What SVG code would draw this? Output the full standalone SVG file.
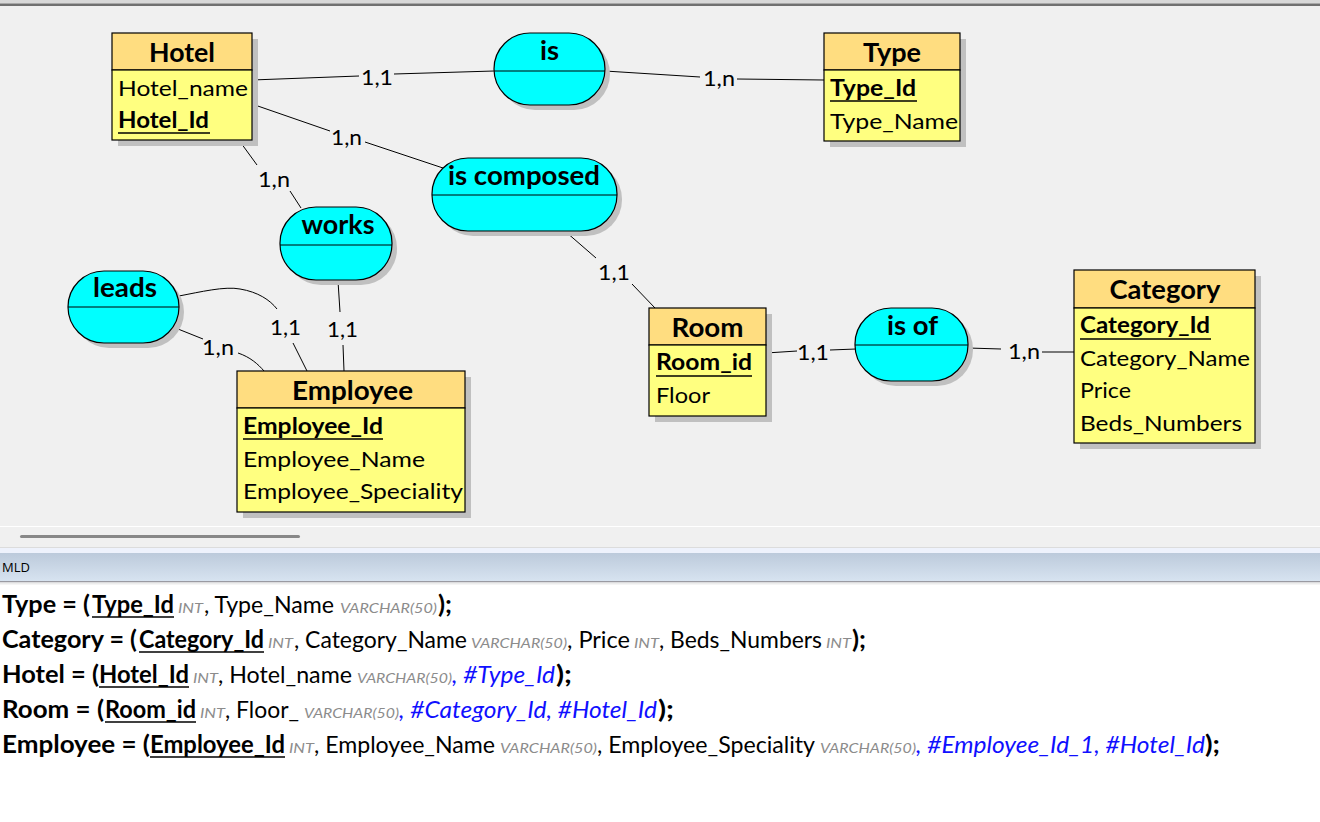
<svg xmlns="http://www.w3.org/2000/svg" width="1320" height="822" viewBox="0 0 1320 822">
<defs>
<style>
text{font-family:Lato,"Open Sans","Liberation Sans",sans-serif;fill:#000}
.ent{fill:#ffff80;stroke:#000;stroke-width:1.2}
.hdr{fill:#ffdd80;stroke:#000;stroke-width:1.2}
.shd{fill:#c0c0c0}
.asc{fill:#00ffff;stroke:#000;stroke-width:1.2}
.ttl{font-size:26px;font-weight:bold;text-anchor:middle}
.att{font-size:22px}
.key{font-size:22px;font-weight:bold}
.card{font-size:22px}
.ln{fill:none;stroke:#000;stroke-width:1}
.ul{stroke:#000;stroke-width:1.6}
.mb{font-size:24px;font-weight:bold}
.mr{font-size:23px}
.ms{font-size:14px;font-style:italic;fill:#8c8c8c}
.mf{font-size:23px;font-style:italic;fill:#1010ff}
</style>
<linearGradient id="hg" x1="0" y1="0" x2="0" y2="1">
<stop offset="0" stop-color="#bccadb"/>
<stop offset="1" stop-color="#d8e4f1"/>
</linearGradient>
</defs>

<rect x="0" y="0" width="1320" height="822" fill="#ffffff"/>
<rect x="0" y="0" width="1320" height="526" fill="#f0f0f0"/>
<rect x="0" y="0" width="1320" height="3" fill="#d8d8d8"/>
<rect x="0" y="3" width="1320" height="1" fill="#a8a8a8"/>
<rect x="0" y="4" width="1320" height="2" fill="#707070"/>
<rect x="0" y="526" width="1320" height="1" fill="#ffffff"/>
<rect x="0" y="527" width="1320" height="20" fill="#f0f0f0"/>
<rect x="20" y="535" width="280" height="3" rx="1.5" fill="#888888"/>
<rect x="0" y="547" width="1320" height="1" fill="#dcdcdc"/>
<rect x="0" y="548" width="1320" height="5" fill="#eef2fc"/>
<rect x="0" y="553" width="1320" height="29" fill="url(#hg)"/>
<rect x="0" y="581" width="1320" height="1.5" fill="#9a9aa2"/>
<rect x="0" y="582.5" width="1320" height="2" fill="#ececec"/>
<text x="2" y="572" style="font-size:13px;font-family:'Open Sans','Liberation Sans',sans-serif">MLD</text>

<g id="connectors">
<polyline class="ln" points="252,80 359,76"/>
<polyline class="ln" points="394,74 494,71"/>
<text class="card" x="361" y="85" textLength="32" lengthAdjust="spacingAndGlyphs">1,1</text>
<polyline class="ln" points="605,71 700,77"/>
<polyline class="ln" points="737,79 824,80"/>
<text class="card" x="703" y="86" textLength="32" lengthAdjust="spacingAndGlyphs">1,n</text>
<polyline class="ln" points="252,104 330,131"/>
<polyline class="ln" points="365,142 446,169"/>
<text class="card" x="331" y="145" textLength="31" lengthAdjust="spacingAndGlyphs">1,n</text>
<polyline class="ln" points="241,143 257,165"/>
<polyline class="ln" points="290,191 301,208"/>
<text class="card" x="258" y="187" textLength="32" lengthAdjust="spacingAndGlyphs">1,n</text>
<polyline class="ln" points="566,232 596,258"/>
<polyline class="ln" points="632,284 655,308"/>
<text class="card" x="598" y="280" textLength="32" lengthAdjust="spacingAndGlyphs">1,1</text>
<polyline class="ln" points="338,281 340,312"/>
<polyline class="ln" points="343,345 344,371"/>
<text class="card" x="327" y="337" textLength="31" lengthAdjust="spacingAndGlyphs">1,1</text>
<path class="ln" d="M179,296 C200,292 225,286 240,289 C258,292 270,300 277,309"/>
<polyline class="ln" points="293,343 307,371"/>
<text class="card" x="270" y="335" textLength="31" lengthAdjust="spacingAndGlyphs">1,1</text>
<polyline class="ln" points="173,327 203,339"/>
<path class="ln" d="M238,353 C250,357 258,364 264,371"/>
<text class="card" x="202" y="355" textLength="32" lengthAdjust="spacingAndGlyphs">1,n</text>
<polyline class="ln" points="766,353 797,351"/>
<polyline class="ln" points="830,350 856,349"/>
<text class="card" x="797" y="360" textLength="32" lengthAdjust="spacingAndGlyphs">1,1</text>
<polyline class="ln" points="968,348 1001,349"/>
<polyline class="ln" points="1042,352 1074,352"/>
<text class="card" x="1008" y="359" textLength="32" lengthAdjust="spacingAndGlyphs">1,n</text>
</g>

<g id="hotel">
<rect class="shd" x="118" y="39" width="140" height="107"/>
<rect class="hdr" x="112" y="33" width="140" height="37"/>
<rect class="ent" x="112" y="70" width="140" height="70"/>
<text class="ttl" x="182" y="62" textLength="66" lengthAdjust="spacingAndGlyphs">Hotel</text>
<text class="att" x="118" y="96" textLength="130" lengthAdjust="spacingAndGlyphs">Hotel_name</text>
<text class="key" x="118" y="128" textLength="91" lengthAdjust="spacingAndGlyphs">Hotel_Id</text>
<line class="ul" x1="118" y1="133" x2="210" y2="133"/>
</g>

<g id="type">
<rect class="shd" x="830" y="39" width="136" height="108"/>
<rect class="hdr" x="824" y="33" width="136" height="37"/>
<rect class="ent" x="824" y="70" width="136" height="71"/>
<text class="ttl" x="892" y="62" textLength="58" lengthAdjust="spacingAndGlyphs">Type</text>
<text class="key" x="830" y="96" textLength="86" lengthAdjust="spacingAndGlyphs">Type_Id</text>
<line class="ul" x1="830" y1="101" x2="917" y2="101"/>
<text class="att" x="830" y="129" textLength="128" lengthAdjust="spacingAndGlyphs">Type_Name</text>
</g>

<g id="is">
<rect class="shd" x="499" y="38" width="111" height="72" rx="36" ry="36"/>
<rect class="asc" x="494" y="33" width="111" height="72" rx="36" ry="36"/>
<line class="ln" x1="494" y1="71" x2="605" y2="71"/>
<text class="ttl" x="549.5" y="60" textLength="19" lengthAdjust="spacingAndGlyphs">is</text>
</g>

<g id="is_composed">
<rect class="shd" x="437" y="163" width="185" height="73" rx="36" ry="36"/>
<rect class="asc" x="432" y="158" width="185" height="73" rx="36" ry="36"/>
<line class="ln" x1="432" y1="195" x2="617" y2="195"/>
<text class="ttl" x="524" y="185" textLength="152" lengthAdjust="spacingAndGlyphs">is composed</text>
</g>

<g id="works">
<rect class="shd" x="285" y="212" width="112" height="73" rx="36" ry="36"/>
<rect class="asc" x="280" y="207" width="112" height="73" rx="36" ry="36"/>
<line class="ln" x1="280" y1="245" x2="392" y2="245"/>
<text class="ttl" x="338" y="234" textLength="73" lengthAdjust="spacingAndGlyphs">works</text>
</g>

<g id="leads">
<rect class="shd" x="73" y="276" width="111" height="72" rx="36" ry="36"/>
<rect class="asc" x="68" y="271" width="111" height="72" rx="36" ry="36"/>
<line class="ln" x1="68" y1="307" x2="179" y2="307"/>
<text class="ttl" x="125" y="297" textLength="64" lengthAdjust="spacingAndGlyphs">leads</text>
</g>

<g id="room">
<rect class="shd" x="655" y="314" width="117" height="108"/>
<rect class="hdr" x="649" y="308" width="117" height="37"/>
<rect class="ent" x="649" y="345" width="117" height="71"/>
<text class="ttl" x="707.5" y="337" textLength="72" lengthAdjust="spacingAndGlyphs">Room</text>
<text class="key" x="656" y="370" textLength="96" lengthAdjust="spacingAndGlyphs">Room_id</text>
<line class="ul" x1="656" y1="376" x2="752" y2="376"/>
<text class="att" x="656" y="403" textLength="54" lengthAdjust="spacingAndGlyphs">Floor</text>
</g>

<g id="is_of">
<rect class="shd" x="860" y="313" width="113" height="73" rx="36" ry="36"/>
<rect class="asc" x="855" y="308" width="113" height="73" rx="36" ry="36"/>
<line class="ln" x1="855" y1="345" x2="968" y2="345"/>
<text class="ttl" x="912.5" y="335" textLength="51" lengthAdjust="spacingAndGlyphs">is of</text>
</g>

<g id="category">
<rect class="shd" x="1080" y="276" width="181" height="173"/>
<rect class="hdr" x="1074" y="270" width="181" height="38"/>
<rect class="ent" x="1074" y="308" width="181" height="135"/>
<text class="ttl" x="1165" y="299" textLength="111" lengthAdjust="spacingAndGlyphs">Category</text>
<text class="key" x="1080" y="333" textLength="130" lengthAdjust="spacingAndGlyphs">Category_Id</text>
<line class="ul" x1="1080" y1="339" x2="1211" y2="339"/>
<text class="att" x="1080" y="366" textLength="170" lengthAdjust="spacingAndGlyphs">Category_Name</text>
<text class="att" x="1080" y="398" textLength="51" lengthAdjust="spacingAndGlyphs">Price</text>
<text class="att" x="1080" y="431" textLength="162" lengthAdjust="spacingAndGlyphs">Beds_Numbers</text>
</g>

<g id="employee">
<rect class="shd" x="243" y="377" width="228" height="141"/>
<rect class="hdr" x="237" y="371" width="228" height="37"/>
<rect class="ent" x="237" y="408" width="228" height="104"/>
<text class="ttl" x="352.5" y="400" textLength="121" lengthAdjust="spacingAndGlyphs">Employee</text>
<text class="key" x="243" y="434" textLength="140" lengthAdjust="spacingAndGlyphs">Employee_Id</text>
<line class="ul" x1="243" y1="439" x2="383" y2="439"/>
<text class="att" x="243" y="467" textLength="182" lengthAdjust="spacingAndGlyphs">Employee_Name</text>
<text class="att" x="243" y="499" textLength="220" lengthAdjust="spacingAndGlyphs">Employee_Speciality</text>
</g>

<g id="mld">
<text class="mb" x="2" y="613" textLength="88" lengthAdjust="spacingAndGlyphs">Type = (</text>
<text class="mb" x="92" y="613" textLength="82" lengthAdjust="spacingAndGlyphs">Type_Id</text>
<line class="ul" x1="92" y1="617" x2="174" y2="617"/>
<text class="ms" x="178" y="613" textLength="25" lengthAdjust="spacingAndGlyphs">INT</text>
<text class="mr" x="204" y="613" textLength="130" lengthAdjust="spacingAndGlyphs">, Type_Name</text>
<text class="ms" x="340" y="613" textLength="97" lengthAdjust="spacingAndGlyphs">VARCHAR(50)</text>
<text class="mb" x="438" y="613" textLength="14" lengthAdjust="spacingAndGlyphs">);</text>

<text class="mb" x="2" y="648" textLength="135" lengthAdjust="spacingAndGlyphs">Category = (</text>
<text class="mb" x="139" y="648" textLength="125" lengthAdjust="spacingAndGlyphs">Category_Id</text>
<line class="ul" x1="139" y1="652" x2="264" y2="652"/>
<text class="ms" x="268" y="648" textLength="25" lengthAdjust="spacingAndGlyphs">INT</text>
<text class="mr" x="294" y="648" textLength="173" lengthAdjust="spacingAndGlyphs">, Category_Name</text>
<text class="ms" x="471" y="648" textLength="96" lengthAdjust="spacingAndGlyphs">VARCHAR(50)</text>
<text class="mr" x="567" y="648" textLength="63" lengthAdjust="spacingAndGlyphs">, Price</text>
<text class="ms" x="634" y="648" textLength="25" lengthAdjust="spacingAndGlyphs">INT</text>
<text class="mr" x="659" y="648" textLength="163" lengthAdjust="spacingAndGlyphs">, Beds_Numbers</text>
<text class="ms" x="826" y="648" textLength="25" lengthAdjust="spacingAndGlyphs">INT</text>
<text class="mb" x="852" y="648" textLength="14" lengthAdjust="spacingAndGlyphs">);</text>

<text class="mb" x="2" y="683" textLength="97" lengthAdjust="spacingAndGlyphs">Hotel = (</text>
<text class="mb" x="99" y="683" textLength="90" lengthAdjust="spacingAndGlyphs">Hotel_Id</text>
<line class="ul" x1="99" y1="687" x2="189" y2="687"/>
<text class="ms" x="193" y="683" textLength="25" lengthAdjust="spacingAndGlyphs">INT</text>
<text class="mr" x="218" y="683" textLength="134" lengthAdjust="spacingAndGlyphs">, Hotel_name</text>
<text class="ms" x="357" y="683" textLength="95" lengthAdjust="spacingAndGlyphs">VARCHAR(50)</text>
<text class="mf" x="452" y="683" textLength="103" lengthAdjust="spacingAndGlyphs">, #Type_Id</text>
<text class="mb" x="556" y="683" textLength="16" lengthAdjust="spacingAndGlyphs">);</text>

<text class="mb" x="2" y="718" textLength="102" lengthAdjust="spacingAndGlyphs">Room = (</text>
<text class="mb" x="105" y="718" textLength="91" lengthAdjust="spacingAndGlyphs">Room_id</text>
<line class="ul" x1="105" y1="722" x2="196" y2="722"/>
<text class="ms" x="200" y="718" textLength="25" lengthAdjust="spacingAndGlyphs">INT</text>
<text class="mr" x="225" y="718" textLength="74" lengthAdjust="spacingAndGlyphs">, Floor_</text>
<text class="ms" x="304" y="718" textLength="95" lengthAdjust="spacingAndGlyphs">VARCHAR(50)</text>
<text class="mf" x="399" y="718" textLength="258" lengthAdjust="spacingAndGlyphs">, #Category_Id, #Hotel_Id</text>
<text class="mb" x="658" y="718" textLength="16" lengthAdjust="spacingAndGlyphs">);</text>

<text class="mb" x="2" y="753" textLength="148" lengthAdjust="spacingAndGlyphs">Employee = (</text>
<text class="mb" x="150" y="753" textLength="135" lengthAdjust="spacingAndGlyphs">Employee_Id</text>
<line class="ul" x1="150" y1="757" x2="285" y2="757"/>
<text class="ms" x="289" y="753" textLength="25" lengthAdjust="spacingAndGlyphs">INT</text>
<text class="mr" x="314" y="753" textLength="181" lengthAdjust="spacingAndGlyphs">, Employee_Name</text>
<text class="ms" x="500" y="753" textLength="97" lengthAdjust="spacingAndGlyphs">VARCHAR(50)</text>
<text class="mr" x="597" y="753" textLength="218" lengthAdjust="spacingAndGlyphs">, Employee_Speciality</text>
<text class="ms" x="820" y="753" textLength="96" lengthAdjust="spacingAndGlyphs">VARCHAR(50)</text>
<text class="mf" x="916" y="753" textLength="289" lengthAdjust="spacingAndGlyphs">, #Employee_Id_1, #Hotel_Id</text>
<text class="mb" x="1205" y="753" textLength="15" lengthAdjust="spacingAndGlyphs">);</text>
</g>
</svg>
